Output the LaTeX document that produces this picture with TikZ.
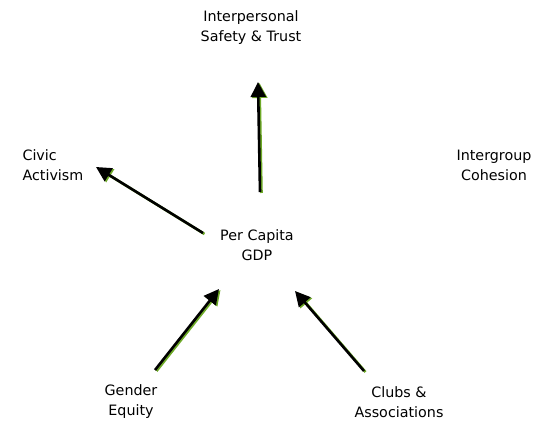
\documentclass[tikz,border=0pt]{standalone}
\usepackage{fontspec}
\setmainfont{DejaVu Sans}
\usepackage{tikz}
\usetikzlibrary{arrows.meta}
\usepackage{xcolor}
\definecolor{shadowgreen}{RGB}{110,170,40}

\begin{document}
\begin{tikzpicture}[x=1pt,y=-1pt,
  lbl/.style={align=center,font=\fontsize{14.3}{20}\selectfont},
  arr/.style={line width=2.6pt,-{Triangle[length=15pt,width=15pt]}},
  arrshadow/.style={arr,shadowgreen,transform canvas={shift={(1.5pt,-1pt)}}}]
\useasboundingbox (0,0) rectangle (536,427);

\node [lbl] (trust) at (251,28) {Interpersonal\\Safety \& Trust};
\node [lbl,align=left,anchor=west] (civic) at (19,165) {Civic\\Activism};
\node [lbl] (cohesion) at (494,165) {Intergroup\\Cohesion};
\node [lbl] (gdp) at (257,245) {Per Capita\\GDP};
\node [lbl] (gender) at (131,402) {Gender\\Equity};
\node [lbl] (clubs) at (399,402) {Clubs \&\\Associations};

% arrow ends
\coordinate (t0) at (260,192);
\coordinate (t1) at (258,82);
\coordinate (c0) at (203,233);
\coordinate (c1) at (96,167);
\coordinate (g0) at (155,370);
\coordinate (g1) at (219,289);
\coordinate (k0) at (364,371);
\coordinate (k1) at (295,291);

\draw [arrshadow] (t0) -- (t1);
\draw [arrshadow] (c0) -- (c1);
\draw [arrshadow] (g0) -- (g1);
\draw [arrshadow] (k0) -- (k1);
\draw [arr] (t0) -- (t1);
\draw [arr] (c0) -- (c1);
\draw [arr] (g0) -- (g1);
\draw [arr] (k0) -- (k1);

\end{tikzpicture}
\end{document}
